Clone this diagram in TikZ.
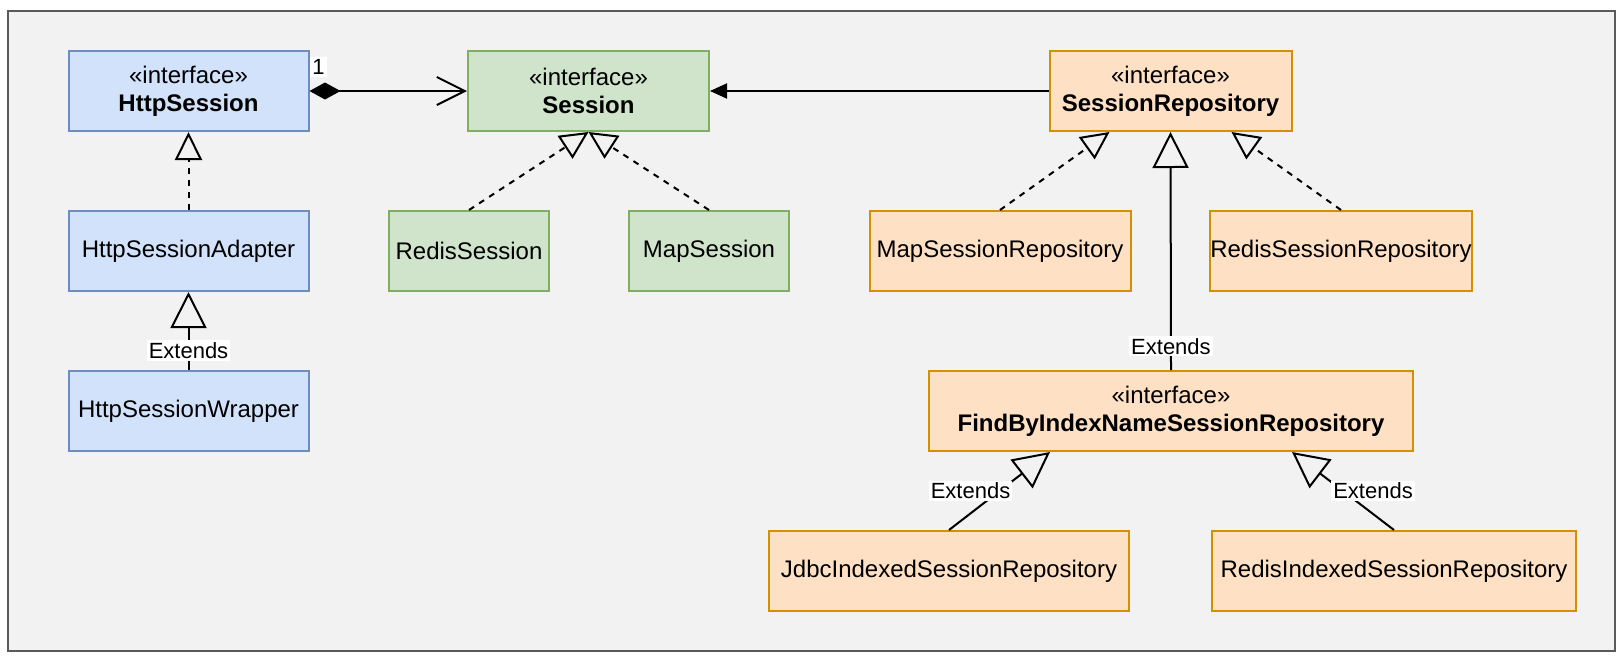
\documentclass[tikz,border=0pt]{standalone}
\usepackage{fontspec}
\setmainfont{Liberation Sans}
\usepackage{tikz}
\usetikzlibrary{
  positioning,
  arrows.meta
}
\definecolor{blueFill}{HTML}{D2E2FB}
\definecolor{blueLine}{HTML}{6C8EBF}
\definecolor{greenFill}{HTML}{CFE4CB}
\definecolor{greenLine}{HTML}{7FB062}
\definecolor{orangeFill}{HTML}{FEE1C4}
\definecolor{orangeLine}{HTML}{D39100}
\definecolor{frameFill}{HTML}{F2F2F2}
\definecolor{frameLine}{HTML}{5A5A5A}

\begin{document}
\begin{tikzpicture}[x=0.5pt, y=-0.5pt,
		box/.style={draw, line width=1pt, minimum height=40pt, inner sep=0pt, align=center,
			font=\fontsize{12pt}{14pt}\selectfont},
		blueclass/.style={box, fill=blueFill, draw=blueLine, minimum width=120pt},
		greenclass/.style={box, fill=greenFill, draw=greenLine},
		orangeclass/.style={box, fill=orangeFill, draw=orangeLine},
		lbl/.style={fill=white, inner sep=1pt, font=\fontsize{11pt}{13pt}\selectfont},
		realize/.style={line width=1pt, dash pattern=on 3pt off 3pt,
			-{Triangle[open, length=14pt, width=13.5pt]}},
		extend/.style={line width=1pt, -{Triangle[open, length=18pt, width=18pt]}},
		compose/.style={line width=1pt,
			{Diamond[length=15.5pt, width=8.5pt]}-{Straight Barb[length=14pt, width=14pt]}},
		assoc/.style={line width=1pt, -{Triangle[length=8.5pt, width=7.5pt]}}
	]
		\useasboundingbox (0,0) rectangle (1616,660);

		% frame
		\draw[line width=1pt, draw=frameLine, fill=frameFill] (8,11) rectangle (1615,651);

		% HttpSession column
		\node[blueclass] (httpsession) at (188.5,91) {«interface»\\\textbf{HttpSession}};
		\node[blueclass] (httpadapter) at (188.5,251) {HttpSessionAdapter};
		\node[blueclass] (httpwrapper) at (188.5,411) {HttpSessionWrapper};

		% Session and its classes
		\node[greenclass, minimum width=120.5pt] (session) at (588.5,91) {«interface»\\\textbf{Session}};
		\node[greenclass, minimum width=80pt] (redissession) at (469,251) {RedisSession};
		\node[greenclass, minimum width=80pt] (mapsession) at (709,251) {MapSession};

		% repositories
		\node[orangeclass, minimum width=121pt] (sessionrepo) at (1170.5,91) {«interface»\\\textbf{SessionRepository}};
		\node[orangeclass, minimum width=130.5pt] (mapsessionrepo) at (1000,251) {MapSessionRepository};
		\node[orangeclass, minimum width=131pt] (redissessionrepo) at (1341,251) {RedisSessionRepository};
		\node[orangeclass, minimum width=242pt] (findbyrepo) at (1171,411) {«interface»\\\textbf{FindByIndexNameSessionRepository}};
		\node[orangeclass, minimum width=180pt] (jdbcrepo) at (949,571) {JdbcIndexedSessionRepository};
		\node[orangeclass, minimum width=182pt] (redisindexedrepo) at (1394,571) {RedisIndexedSessionRepository};

		% HttpSession links
		\draw[compose] (httpsession.east) -- (session.west)
			node[lbl, pos=0, xshift=4.5pt, yshift=12pt] {1};
		\draw[realize] (httpadapter.north) -- (httpsession.south);
		\draw[extend] (httpwrapper.north) -- (httpadapter.south)
			node[lbl, pos=.25] {Extends};

		% Session links
		\draw[assoc] (sessionrepo.west) -- (session.east);
		\draw[realize] (redissession.north) -- (session.south);
		\draw[realize] (mapsession.north) -- (session.south);

		% repository links
		\draw[realize] (mapsessionrepo.north) -- ([xshift=-30.5pt]sessionrepo.south);
		\draw[realize] (redissessionrepo.north) -- ([xshift=30.5pt]sessionrepo.south);
		\draw[extend] (findbyrepo.north) -- (sessionrepo.south)
			node[lbl, pos=.1] {Extends};
		\draw[extend] (jdbcrepo.north) -- ([xshift=-60.5pt]findbyrepo.south)
			node[lbl, pos=.5, xshift=-14.5pt] {Extends};
		\draw[extend] (redisindexedrepo.north) -- ([xshift=60.5pt]findbyrepo.south)
			node[lbl, pos=.5, xshift=15pt] {Extends};
	\end{tikzpicture}
\end{document}
